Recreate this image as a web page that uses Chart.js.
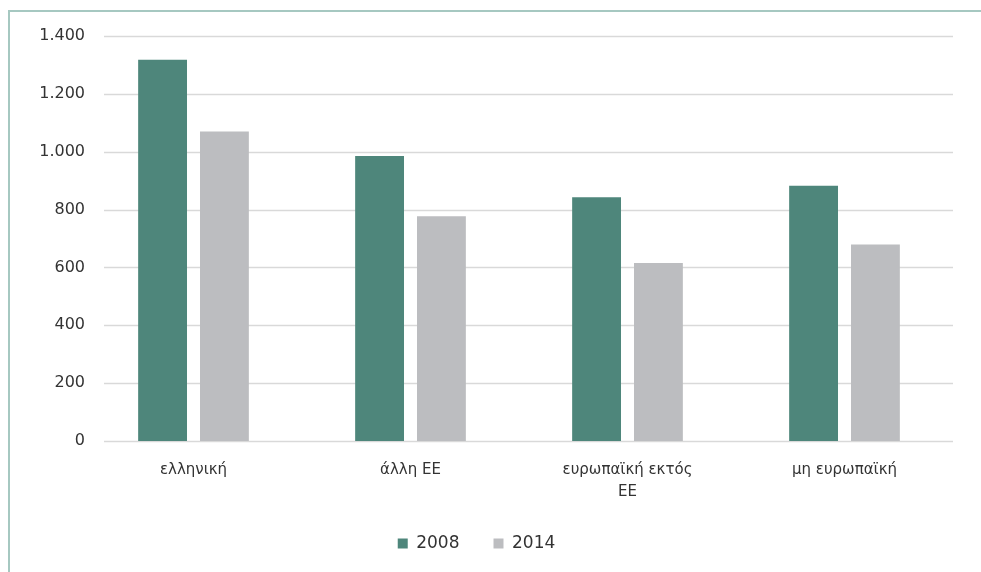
<!DOCTYPE html>
<html>
<head>
<meta charset="utf-8">
<script src="https://cdn.jsdelivr.net/npm/chart.js@4"></script>
<style>
  html, body { margin: 0; padding: 0; background: #fff; overflow: hidden; }
  #frame {
    position: absolute; left: 8px; top: 10px; width: 990px; height: 580px;
    border-top: 2px solid #a6c8c1; border-left: 2px solid #a6c8c1;
    box-sizing: border-box;
  }
  #wrap { position: absolute; left: 0; top: 0; width: 981px; height: 572px; }
</style>
</head>
<body>
<div id="frame"></div>
<div id="wrap"><canvas id="barChart" width="981" height="572"></canvas></div>
<script>
const categories = ['ελληνική', 'άλλη ΕΕ', ['ευρωπαϊκή εκτός', 'ΕΕ'], 'μη ευρωπαϊκή'];
const values2008 = [1318, 985, 843, 882];
const values2014 = [1070, 777, 615, 679];
const yTicks = [0, 200, 400, 600, 800, 1000, 1200, 1400];

const FONT = '"DejaVu Sans", sans-serif';
const TEXT = '#333333';

// horizontal gridlines start a bit right of the plot edge, like the original
const gridPlugin = {
  id: 'gridLines',
  beforeDatasetsDraw(chart) {
    const ctx = chart.ctx;
    const y = chart.scales.y;
    const area = chart.chartArea;
    ctx.save();
    ctx.strokeStyle = '#d9d9d9';
    ctx.lineWidth = 1.5;
    yTicks.forEach(v => {
      const py = Math.round(y.getPixelForValue(v)) + 0.5;
      ctx.beginPath();
      ctx.moveTo(area.left + 19, py);
      ctx.lineTo(area.right, py);
      ctx.stroke();
    });
    ctx.restore();
  }
};

const ctx = document.getElementById('barChart').getContext('2d');
new Chart(ctx, {
  type: 'bar',
  data: {
    labels: categories,
    datasets: [
      {
        label: '2008',
        data: values2008,
        backgroundColor: '#4e867b',
        categoryPercentage: 0.57,
        barPercentage: 0.79
      },
      {
        label: '2014',
        data: values2014,
        backgroundColor: '#bcbdc0',
        categoryPercentage: 0.57,
        barPercentage: 0.79
      }
    ]
  },
  options: {
    responsive: false,
    animation: false,
    layout: { padding: { top: 36, right: 28, bottom: 10, left: 0 } },
    plugins: {
      tooltip: { enabled: false },
      legend: {
        position: 'bottom',
        labels: {
          font: { family: FONT, size: 17 },
          color: TEXT,
          boxWidth: 10,
          boxHeight: 10,
          padding: 34
        }
      }
    },
    scales: {
      x: {
        afterFit(scale) { scale.height = 60; },
        grid: { display: false, drawTicks: false },
        border: { display: false },
        ticks: {
          font: { family: FONT, size: 15, lineHeight: 1.45 },
          color: TEXT,
          padding: 18,
          maxRotation: 0
        }
      },
      y: {
        min: 0,
        max: 1400,
        afterFit(scale) { scale.width = 85; },
        afterBuildTicks(scale) { scale.ticks = yTicks.map(v => ({ value: v })); },
        grid: { display: false, drawTicks: false },
        border: { display: false },
        ticks: {
          font: { family: FONT, size: 16 },
          color: TEXT,
          padding: 0,
          callback: v => v.toLocaleString('de-DE')
        }
      }
    }
  },
  plugins: [gridPlugin]
});
</script>
</body>
</html>
